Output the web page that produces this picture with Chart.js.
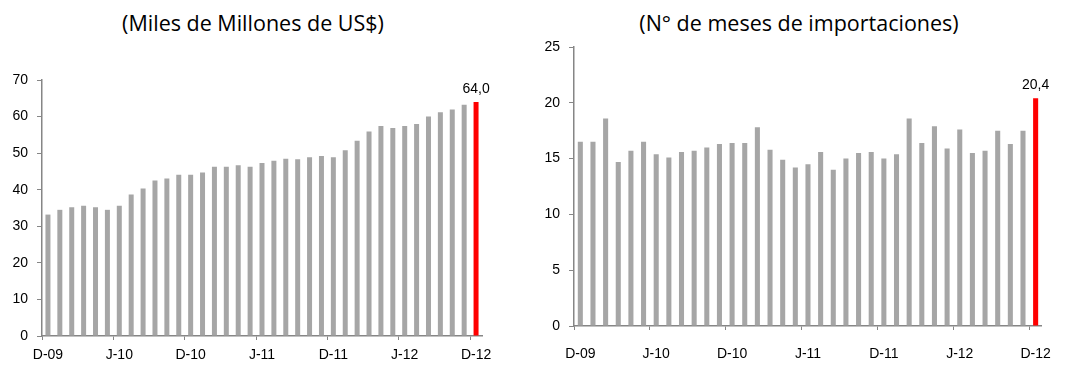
<!DOCTYPE html>
<html>
<head>
<meta charset="utf-8">
<script src="https://cdn.jsdelivr.net/npm/chart.js@4"></script>
<style>
    body { margin: 0; background: #fff; }
    #wrap { position: relative; width: 1067px; height: 368px; overflow: hidden; }
    .box { position: absolute; top: 0; height: 368px; }
    .title { position: absolute; top: 8px; font-family: 'Open Sans', sans-serif; font-size: 21.5px; line-height: 30px; color: #000; white-space: nowrap; transform: translateX(-50%); }
</style>
</head>
<body>
<div id="wrap">
    <div class="title" style="left:253px">(Miles de Millones de US$)</div>
    <div class="title" style="left:799px">(N° de meses de importaciones)</div>
    <div class="box" style="left:0; width:520px"><canvas id="left"></canvas></div>
    <div class="box" style="left:530px; width:537px"><canvas id="right"></canvas></div>
</div>
<script>
const months = [
    'D-09', 'E-10', 'F-10', 'M-10', 'A-10', 'M-10', 'J-10', 'J-10', 'A-10', 'S-10', 'O-10', 'N-10',
    'D-10', 'E-11', 'F-11', 'M-11', 'A-11', 'M-11', 'J-11', 'J-11', 'A-11', 'S-11', 'O-11', 'N-11',
    'D-11', 'E-12', 'F-12', 'M-12', 'A-12', 'M-12', 'J-12', 'J-12', 'A-12', 'S-12', 'O-12', 'N-12',
    'D-12'
]

// reservas internacionales, miles de millones de US$
const reservas = [
    33.2, 34.5, 35.2, 35.6, 35.2, 34.5, 35.6, 38.7, 40.3, 42.5, 43.1, 44.1,
    44.1, 44.7, 46.3, 46.3, 46.7, 46.3, 47.3, 47.9, 48.5, 48.3, 48.9, 49.2,
    48.9, 50.8, 53.4, 55.9, 57.4, 56.9, 57.4, 58.0, 60.0, 61.2, 61.9, 63.2,
    64.0
]

// meses de importaciones
const mesesImport = [
    16.5, 16.5, 18.6, 14.7, 15.7, 16.5, 15.4, 15.1, 15.6, 15.7, 16.0, 16.3,
    16.4, 16.4, 17.8, 15.8, 14.9, 14.2, 14.5, 15.6, 14.0, 15.0, 15.5, 15.6,
    15.0, 15.4, 18.6, 16.4, 17.9, 15.9, 17.6, 15.5, 15.7, 17.5, 16.3, 17.5,
    20.4
]

const leftTicks = [0, 70, 10]
const rightTicks = [0, 25, 5]

const gray = '#A6A6A6'
const red = '#FF0000'
const axisColor = '#868686'

const lastLabel = {
    id: 'lastLabel',
    afterDatasetsDraw: function(chart) {
        const meta = chart.getDatasetMeta(0)
        const bar = meta.data[meta.data.length - 1]
        const values = chart.data.datasets[0].data
        const v = values[values.length - 1]
        const ctx = chart.ctx
        ctx.save()
        ctx.font = '14px "Liberation Sans", Arial, sans-serif'
        ctx.fillStyle = '#000'
        ctx.textAlign = 'center'
        ctx.textBaseline = 'bottom'
        ctx.fillText(v.toFixed(1).replace('.', ','), bar.x, bar.y - 6)
        ctx.restore()
    }
}

function makeChart(id, values, yTicks, opts) {
    const colors = values.map(function(v, i) {
        return i === values.length - 1 ? red : gray
    })
    const ctx = document.getElementById(id).getContext('2d')
    return new Chart(ctx, {
        type: 'bar',
        data: {
            labels: months,
            datasets: [{
                data: values,
                backgroundColor: colors,
                barPercentage: opts.barPct,
                categoryPercentage: 1
            }]
        },
        plugins: [lastLabel],
        options: {
            responsive: true,
            maintainAspectRatio: false,
            animation: false,
            layout: {
                padding: { top: opts.top, right: opts.right, bottom: 0, left: 0 }
            },
            plugins: {
                legend: { display: false },
                tooltip: { enabled: false }
            },
            scales: {
                x: {
                    offset: true,
                    afterFit: function(scale) { scale.height = opts.xHeight },
                    grid: {
                        offset: true,
                        drawOnChartArea: false,
                        tickLength: 4,
                        color: function(c) {
                            return (c.index !== undefined && c.index % 6 === 0) ? axisColor : 'rgba(0,0,0,0)'
                        }
                    },
                    border: { color: axisColor, width: 1.5 },
                    ticks: {
                        autoSkip: false,
                        maxRotation: 0,
                        padding: opts.xPad,
                        color: '#000',
                        font: { family: '"Liberation Sans", Arial, sans-serif', size: 14 },
                        callback: function(val, i) {
                            return i % 6 === 0 ? months[i] : ''
                        }
                    }
                },
                y: {
                    min: yTicks[0],
                    max: yTicks[1],
                    afterFit: function(scale) { scale.width = opts.yWidth },
                    grid: {
                        drawOnChartArea: false,
                        tickLength: 5,
                        color: axisColor
                    },
                    border: { color: axisColor, width: 1.5 },
                    ticks: {
                        stepSize: yTicks[2],
                        padding: 9,
                        color: '#000',
                        font: { family: '"Liberation Sans", Arial, sans-serif', size: 14 }
                    }
                }
            }
        }
    })
}

makeChart('left', reservas, leftTicks, { top: 80, right: 38, xHeight: 32, xPad: 7, yWidth: 42, barPct: 0.42 })
makeChart('right', mesesImport, rightTicks, { top: 47, right: 14, xHeight: 42, xPad: 16, yWidth: 44, barPct: 0.4 })
</script>
</body>
</html>
